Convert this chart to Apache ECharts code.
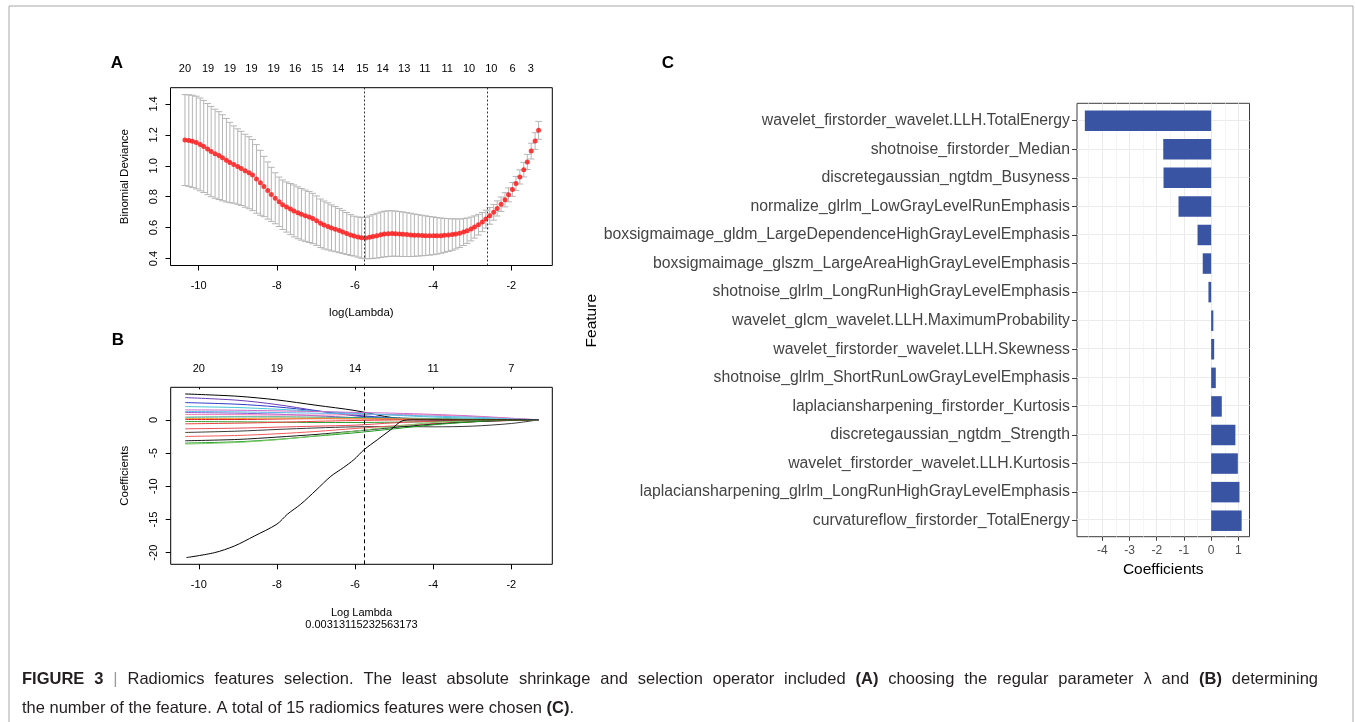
<!DOCTYPE html>
<html><head><meta charset="utf-8">
<script src="https://cdn.jsdelivr.net/npm/echarts@6/dist/echarts.min.js"></script>
<style>html,body{margin:0;padding:0;background:#fff}#c{width:1355px;height:722px}</style>
</head><body><div id="c"></div>
<script>
// ---------------- Panel A: cross-validation curve ----------------
const logLambda = [-10.35,-10.25,-10.16,-10.06,-9.96,-9.87,-9.77,-9.68,-9.58,-9.48,-9.39,-9.29,-9.20,-9.10,-9.00,-8.91,-8.81,-8.71,-8.62,-8.52,-8.42,-8.33,-8.23,-8.14,-8.04,-7.94,-7.85,-7.75,-7.65,-7.56,-7.46,-7.37,-7.27,-7.17,-7.08,-6.98,-6.88,-6.79,-6.69,-6.60,-6.50,-6.40,-6.31,-6.21,-6.11,-6.02,-5.92,-5.83,-5.73,-5.63,-5.54,-5.44,-5.34,-5.25,-5.15,-5.05,-4.96,-4.86,-4.77,-4.67,-4.57,-4.48,-4.38,-4.28,-4.19,-4.09,-3.99,-3.90,-3.80,-3.71,-3.61,-3.51,-3.42,-3.32,-3.22,-3.13,-3.03,-2.94,-2.84,-2.74,-2.65,-2.55,-2.45,-2.36,-2.26,-2.16,-2.07,-1.97,-1.88,-1.78,-1.68,-1.59,-1.49,-1.39,-1.30];
const cvMean = [1.166,1.163,1.158,1.150,1.138,1.125,1.108,1.092,1.078,1.066,1.052,1.036,1.021,1.008,0.995,0.983,0.968,0.955,0.940,0.915,0.890,0.866,0.840,0.815,0.790,0.767,0.748,0.733,0.720,0.708,0.696,0.686,0.677,0.669,0.659,0.645,0.628,0.617,0.608,0.598,0.590,0.581,0.572,0.562,0.552,0.545,0.539,0.534,0.533,0.537,0.542,0.548,0.554,0.558,0.561,0.562,0.561,0.559,0.557,0.555,0.553,0.551,0.550,0.549,0.548,0.547,0.547,0.547,0.548,0.550,0.552,0.555,0.559,0.564,0.571,0.580,0.591,0.604,0.619,0.636,0.655,0.676,0.699,0.724,0.751,0.780,0.812,0.847,0.886,0.928,0.975,1.025,1.095,1.160,1.229];
const cvSE = [0.294,0.296,0.298,0.300,0.300,0.298,0.295,0.292,0.288,0.284,0.278,0.270,0.260,0.250,0.244,0.240,0.236,0.233,0.230,0.222,0.210,0.195,0.185,0.175,0.165,0.160,0.160,0.162,0.165,0.168,0.168,0.167,0.166,0.165,0.163,0.160,0.157,0.155,0.152,0.149,0.146,0.143,0.140,0.136,0.132,0.129,0.130,0.132,0.134,0.138,0.142,0.145,0.147,0.148,0.148,0.147,0.146,0.145,0.144,0.142,0.140,0.137,0.134,0.131,0.128,0.125,0.122,0.118,0.114,0.110,0.106,0.102,0.097,0.092,0.087,0.082,0.077,0.072,0.067,0.062,0.058,0.054,0.051,0.049,0.047,0.046,0.045,0.045,0.045,0.046,0.047,0.049,0.051,0.054,0.058];
const lambdaMinLog = -5.766;
const lambda1seLog = -2.62;
const nzeroPos = [-10.35,-9.76,-9.20,-8.65,-8.08,-7.53,-6.97,-6.43,-5.81,-5.29,-4.74,-4.21,-3.64,-3.08,-2.51,-1.97,-1.50];
const nzeroLabels = ['20','19','19','19','19','16','15','14','15','14','13','11','11','10','10','6','3'];
const ticksA_x = [-10,-8,-6,-4,-2];
const ticksA_y = [0.4,0.6,0.8,1.0,1.2,1.4];

// ---------------- Panel B: coefficient paths ----------------
const pathX = [-10.35,-9,-8,-7,-6,-5,-4,-3,-2,-1.3];
const coefPaths = [
  [3.9,3.55,3.0,2.2,1.4,0.3,0.03,0,0,0],
  [3.35,2.95,2.3,1.4,0.6,0.2,0.05,0,0,0],
  [2.6,2.35,1.95,1.35,0.7,0.3,0.12,0.05,0,0],
  [2.0,1.85,1.6,1.3,1.0,0.7,0.42,0.25,0.1,0],
  [1.5,1.45,1.35,1.25,1.12,1.0,0.82,0.58,0.25,0],
  [1.1,1.0,0.85,0.62,0.32,0.1,0,0,0,0],
  [0.4,0.45,0.45,0.4,0.35,0.28,0.2,0.1,0.04,0],
  [0.05,0.05,0.12,0.18,0.15,0.1,0.05,0.02,0,0],
  [-0.25,-0.3,-0.35,-0.4,-0.4,-0.35,-0.28,-0.18,-0.08,0],
  [-0.6,-0.5,-0.38,-0.22,-0.1,-0.02,0,0,0,0],
  [-1.35,-1.25,-1.1,-0.95,-0.8,-0.45,-0.2,-0.08,0,0],
  [-1.9,-1.7,-1.45,-1.22,-1.05,-1.0,-1.05,-0.95,-0.55,0],
  [-2.5,-2.35,-2.1,-1.75,-1.3,-0.9,-0.55,-0.28,-0.1,0],
  [-3.15,-2.95,-2.6,-2.2,-1.7,-1.15,-0.65,-0.3,-0.08,0],
  [-3.5,-3.3,-2.95,-2.45,-1.95,-1.35,-0.75,-0.3,0,0],
  [-3.65,-3.4,-3.0,-2.4,-1.7,-1.0,-0.4,-0.1,0,0],
  [0.2,0.2,0.25,0.25,0.2,0.15,0.1,0.05,0.02,0],
  [0.8,0.78,0.72,0.72,0.78,0.8,0.7,0.5,0.2,0],
  [1.25,1.2,1.1,1.0,0.9,0.75,0.55,0.4,0.15,0]
];
const pathColors = ['#000000','#6A3DB8','#2F3BC9','#46C6D6','#C867C8','#8E55D0','#28A080','#E0202A','#2E9E2E','#EE4040','#E84A55','#3A3A3A','#F05A5A','#1A1A1A','#1F9A1F','#7FCC6E','#F2A23A','#EF7CB8','#5BB8E6'];
const bigPathX = [-10.32,-9.6,-9.09,-8.58,-8.0,-7.73,-7.39,-7.0,-6.62,-6.3,-6.03,-5.77,-5.43,-5.09,-4.79,-4.5,-3,-1.3];
const bigPathY = [-20.74,-20.0,-19.0,-17.5,-15.7,-14.2,-12.7,-10.6,-8.5,-7.2,-6.0,-4.5,-3.0,-1.5,-0.15,0,0,0];
const dfTopPos = [-10,-8,-6,-4,-2];
const dfTopLabels = ['20','19','14','11','7'];
const ticksB_y = [-20,-15,-10,-5,0];

// ---------------- Panel C: selected features ----------------
const features = [
  'wavelet_firstorder_wavelet.LLH.TotalEnergy',
  'shotnoise_firstorder_Median',
  'discretegaussian_ngtdm_Busyness',
  'normalize_glrlm_LowGrayLevelRunEmphasis',
  'boxsigmaimage_gldm_LargeDependenceHighGrayLevelEmphasis',
  'boxsigmaimage_glszm_LargeAreaHighGrayLevelEmphasis',
  'shotnoise_glrlm_LongRunHighGrayLevelEmphasis',
  'wavelet_glcm_wavelet.LLH.MaximumProbability',
  'wavelet_firstorder_wavelet.LLH.Skewness',
  'shotnoise_glrlm_ShortRunLowGrayLevelEmphasis',
  'laplaciansharpening_firstorder_Kurtosis',
  'discretegaussian_ngtdm_Strength',
  'wavelet_firstorder_wavelet.LLH.Kurtosis',
  'laplaciansharpening_glrlm_LongRunHighGrayLevelEmphasis',
  'curvatureflow_firstorder_TotalEnergy'
];
const coefficients = [-4.64,-1.76,-1.75,-1.20,-0.50,-0.31,-0.10,0.08,0.11,0.17,0.39,0.89,0.98,1.04,1.12];
const ticksC_x = [-4,-3,-2,-1,0,1];
const minorC_x = [-4.5,-3.5,-2.5,-1.5,-0.5,0.5];

// ---------------- Caption ----------------
const captionLine1 = [['FIGURE 3',1],['|',2],['Radiomics features selection. The least absolute shrinkage and selection operator included',0],['(A)',1],['choosing the regular parameter λ and',0],['(B)',1],['determining',0]];
const captionLine2 = [['the number of the feature. A total of 15 radiomics features were chosen',0],['(C)',1],['.',3]];

// =====================================================
const FONT = '"Liberation Sans", Arial, Helvetica, sans-serif';
const chart = echarts.init(document.getElementById('c'), null, {renderer: 'canvas'});

function nearestLabel(pos, labels, v) {
  let bi = 0, bd = 1e9;
  pos.forEach((p, i) => { const d = Math.abs(p - v); if (d < bd) { bd = d; bi = i; } });
  return labels[bi];
}

const rTxt = {color: '#000', fontFamily: FONT, fontSize: 11};
const capHalf = 0.085;
const featureRows = features.map((f, i) => i + 1);

const errData = logLambda.map((x, i) => [x, cvMean[i] - cvSE[i], cvMean[i] + cvSE[i]]);
const meanData = logLambda.map((x, i) => [x, cvMean[i]]);

const series = [];
series.push({
  type: 'custom', xAxisIndex: 0, yAxisIndex: 0, z: 2, silent: true,
  data: errData,
  renderItem: function (params, api) {
    const x = api.value(0), lo = api.value(1), hi = api.value(2);
    const pLo = api.coord([x, lo]), pHi = api.coord([x, hi]);
    const xl = api.coord([x - capHalf, hi])[0], xr = api.coord([x + capHalf, hi])[0];
    const st = {stroke: '#B5B5B5', lineWidth: 1, fill: null};
    return {type: 'group', children: [
      {type: 'line', shape: {x1: pLo[0], y1: pLo[1], x2: pHi[0], y2: pHi[1]}, style: st},
      {type: 'line', shape: {x1: xl, y1: pHi[1], x2: xr, y2: pHi[1]}, style: st},
      {type: 'line', shape: {x1: xl, y1: pLo[1], x2: xr, y2: pLo[1]}, style: st}
    ]};
  }
});
series.push({
  type: 'scatter', xAxisIndex: 0, yAxisIndex: 0, z: 3, silent: true,
  data: meanData, symbol: 'circle', symbolSize: 5,
  itemStyle: {color: '#FF1010'},
  markLine: {
    silent: true, symbol: 'none', label: {show: false},
    lineStyle: {color: '#333', width: 1, type: [2, 2]},
    data: [{xAxis: lambdaMinLog}, {xAxis: lambda1seLog}]
  }
});
coefPaths.forEach((p, k) => {
  series.push({
    type: 'line', xAxisIndex: 2, yAxisIndex: 1, silent: true,
    data: pathX.map((x, i) => [x, p[i]]),
    showSymbol: false, smooth: 0.3,
    lineStyle: {color: pathColors[k], width: 1}
  });
});
series.push({
  type: 'line', xAxisIndex: 2, yAxisIndex: 1, silent: true,
  data: bigPathX.map((x, i) => [x, bigPathY[i]]),
  showSymbol: false, smooth: 0.3,
  lineStyle: {color: '#000', width: 1},
  markLine: {
    silent: true, symbol: 'none', label: {show: false},
    lineStyle: {color: '#000', width: 1, type: [4, 3]},
    data: [{xAxis: lambdaMinLog}]
  }
});
series.push({
  type: 'bar', xAxisIndex: 4, yAxisIndex: 2, silent: true,
  data: coefficients, barWidth: 20.5,
  itemStyle: {color: '#3A54A4'}
});

// caption layout (word placement, justified first line)
const measureCtx = document.createElement('canvas').getContext('2d');
const CAP_SIZE = 16.5;
function capFont(kind) { return (kind === 1 ? 'bold ' : '') + CAP_SIZE + 'px ' + FONT; }
function measure(t, kind) { measureCtx.font = capFont(kind); return measureCtx.measureText(t).width; }
function layoutCaption(line, x0, y, width, justify) {
  const words = [];
  line.forEach(([t, kind]) => {
    if (kind === 3) { words.push({t, kind: 0, glue: true}); return; }
    t.split(' ').forEach(w => words.push({t: w, kind}));
  });
  const spaceW = measure(' ', 0);
  let total = 0, gaps = 0;
  words.forEach((w, i) => { w.w = measure(w.t, w.kind); total += w.w; if (i > 0 && !w.glue) gaps++; });
  const gap = justify ? (width - total) / gaps : spaceW;
  let x = x0;
  const els = [];
  words.forEach((w, i) => {
    if (i > 0 && !w.glue) x += gap;
    els.push({type: 'text', x: x, y: y, silent: true, style: {
      text: w.t, font: capFont(w.kind), fill: w.kind === 2 ? '#9A9A9A' : '#231F20',
      textAlign: 'left', textVerticalAlign: 'middle', align: 'left', verticalAlign: 'middle'}});
    x += w.w;
  });
  return els;
}

const graphics = [
  {type: 'line', silent: true, shape: {x1: 9, y1: 6, x2: 1353, y2: 6}, style: {stroke: '#A8A8A8', lineWidth: 1}},
  {type: 'line', silent: true, shape: {x1: 9, y1: 6, x2: 9, y2: 722}, style: {stroke: '#A8A8A8', lineWidth: 1}},
  {type: 'line', silent: true, shape: {x1: 1353, y1: 6, x2: 1353, y2: 722}, style: {stroke: '#A8A8A8', lineWidth: 1}},
  {type: 'text', x: 117, y: 63, silent: true, style: {text: 'A', font: 'bold 17px ' + FONT, fill: '#000', textAlign: 'center', textVerticalAlign: 'middle', align: 'center', verticalAlign: 'middle'}},
  {type: 'text', x: 118, y: 340, silent: true, style: {text: 'B', font: 'bold 17px ' + FONT, fill: '#000', textAlign: 'center', textVerticalAlign: 'middle', align: 'center', verticalAlign: 'middle'}},
  {type: 'text', x: 668, y: 63, silent: true, style: {text: 'C', font: 'bold 17px ' + FONT, fill: '#000', textAlign: 'center', textVerticalAlign: 'middle', align: 'center', verticalAlign: 'middle'}}
].concat(layoutCaption(captionLine1, 22, 679, 1296, true))
 .concat(layoutCaption(captionLine2, 22, 708, 0, false));

const noLine = {show: false, onZero: false};

const option = {
  backgroundColor: '#fff',
  animation: false,
  textStyle: {fontFamily: FONT},
  grid: [
    {left: 170.5, top: 87.7, width: 381.8, height: 177.8, show: true, borderColor: '#000', borderWidth: 1, backgroundColor: 'transparent'},
    {left: 170.7, top: 387.3, width: 381.6, height: 177.0, show: true, borderColor: '#000', borderWidth: 1, backgroundColor: 'transparent'},
    {left: 1077, top: 106.4, width: 172.5, height: 428.6, show: false},
    {left: 1077, top: 103.3, width: 172.5, height: 433.4, show: true, borderColor: '#3C3C3C', borderWidth: 1, backgroundColor: 'transparent'}
  ],
  xAxis: [
    {type: 'value', gridIndex: 0, position: 'bottom', min: -10.72, max: -0.95,
     axisLine: noLine, splitLine: {show: false},
     axisTick: {show: true, length: 5, customValues: ticksA_x, lineStyle: {color: '#000'}},
     axisLabel: {customValues: ticksA_x, margin: 15, ...rTxt, formatter: v => String(v)},
     name: 'log(Lambda)', nameLocation: 'middle', nameGap: 41, nameTextStyle: {...rTxt, fontSize: 11.5}},
    {type: 'value', gridIndex: 0, position: 'top', min: -10.72, max: -0.95,
     axisLine: noLine, splitLine: {show: false}, axisTick: {show: false, customValues: nzeroPos},
     axisLabel: {customValues: nzeroPos, margin: 13, ...rTxt, formatter: v => nearestLabel(nzeroPos, nzeroLabels, v)}},
    {type: 'value', gridIndex: 1, position: 'bottom', min: -10.72, max: -0.95,
     axisLine: noLine, splitLine: {show: false},
     axisTick: {show: true, length: 5, customValues: ticksA_x, lineStyle: {color: '#000'}},
     axisLabel: {customValues: ticksA_x, margin: 15, ...rTxt, formatter: v => String(v)},
     name: 'Log Lambda\n0.00313115232563173', nameLocation: 'middle', nameGap: 42,
     nameTextStyle: {...rTxt, fontSize: 11, lineHeight: 12.5}},
    {type: 'value', gridIndex: 1, position: 'top', min: -10.72, max: -0.95,
     axisLine: noLine, splitLine: {show: false},
     axisTick: {show: true, inside: true, length: 2, customValues: dfTopPos, lineStyle: {color: '#000'}},
     axisLabel: {customValues: dfTopPos, margin: 13, ...rTxt, formatter: v => nearestLabel(dfTopPos, dfTopLabels, v)}},
    {type: 'value', gridIndex: 2, min: -4.928, max: 1.408, show: false, axisLine: noLine},
    {type: 'value', gridIndex: 3, position: 'bottom', min: -4.928, max: 1.408,
     axisLine: noLine,
     axisTick: {show: true, length: 4, customValues: ticksC_x, lineStyle: {color: '#3C3C3C'}},
     axisLabel: {customValues: ticksC_x, margin: 8, color: '#4D4D4D', fontFamily: FONT, fontSize: 12, formatter: v => String(v)},
     splitLine: {show: true, lineStyle: {color: '#EBEBEB', width: 1}},
     name: 'Coefficients', nameLocation: 'middle', nameGap: 22, nameTextStyle: {color: '#000', fontFamily: FONT, fontSize: 15.5}},
    {type: 'value', gridIndex: 3, position: 'bottom', min: -4.928, max: 1.408,
     axisLine: noLine, axisTick: {show: false, customValues: minorC_x},
     axisLabel: {show: false, customValues: minorC_x},
     splitLine: {show: true, lineStyle: {color: '#F3F3F3', width: 0.8}}}
  ],
  yAxis: [
    {type: 'value', gridIndex: 0, min: 0.355, max: 1.505,
     axisLine: noLine, splitLine: {show: false},
     axisTick: {show: true, length: 5, customValues: ticksA_y, lineStyle: {color: '#000'}},
     axisLabel: {customValues: ticksA_y, rotate: 90, margin: 11, ...rTxt, formatter: v => v.toFixed(1)},
     name: 'Binomial Deviance', nameLocation: 'middle', nameGap: 40, nameRotate: 90, nameTextStyle: {...rTxt, fontSize: 11.5}},
    {type: 'value', gridIndex: 1, min: -21.75, max: 4.9,
     axisLine: noLine, splitLine: {show: false},
     axisTick: {show: true, length: 5, customValues: ticksB_y, lineStyle: {color: '#000'}},
     axisLabel: {customValues: ticksB_y, rotate: 90, margin: 11, ...rTxt, formatter: v => String(v)},
     name: 'Coefficients', nameLocation: 'middle', nameGap: 40, nameRotate: 90, nameTextStyle: {...rTxt, fontSize: 11.5}},
    {type: 'category', gridIndex: 2, data: features, inverse: true,
     axisLine: noLine,
     axisTick: {show: true, alignWithLabel: true, length: 5, lineStyle: {color: '#3C3C3C'}},
     axisLabel: {margin: 7, color: '#444', fontFamily: FONT, fontSize: 15.8},
     splitLine: {show: false},
     name: 'Feature', nameLocation: 'middle', nameGap: 470, nameRotate: 90,
     nameTextStyle: {color: '#000', fontFamily: FONT, fontSize: 15.5}},
    {type: 'value', gridIndex: 3, min: 0.4, max: 15.6, inverse: true,
     axisLine: noLine, axisTick: {show: false, customValues: featureRows},
     axisLabel: {show: false, customValues: featureRows},
     splitLine: {show: true, lineStyle: {color: '#EBEBEB', width: 1}}}
  ],
  graphic: graphics,
  series: series
};
chart.setOption(option);
</script></body></html>
